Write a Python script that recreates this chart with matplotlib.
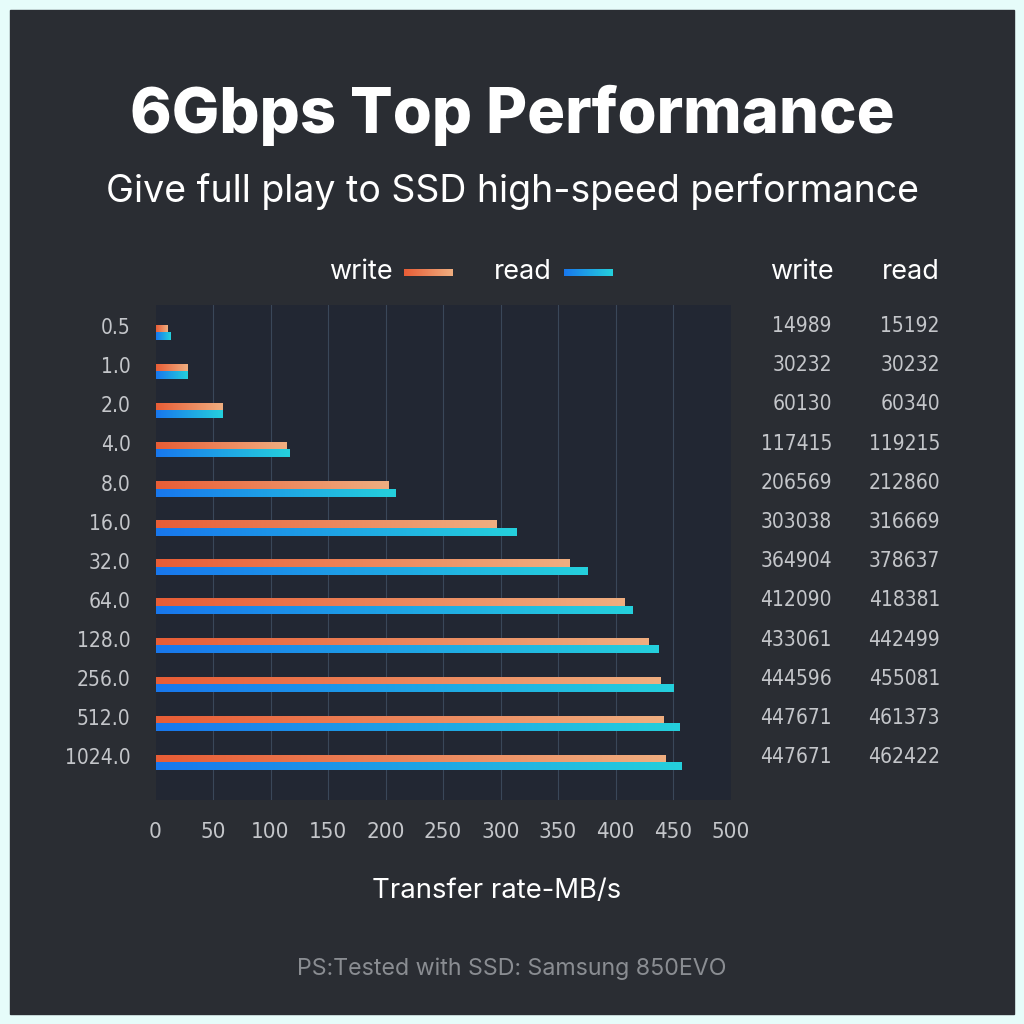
import numpy as np
import matplotlib
matplotlib.use('Agg')
import matplotlib.pyplot as plt
from matplotlib import font_manager
from matplotlib.colors import LinearSegmentedColormap

sizes = ['0.5', '1.0', '2.0', '4.0', '8.0', '16.0', '32.0', '64.0', '128.0', '256.0', '512.0', '1024.0']
write_mbs = [10.3, 27.4, 57.8, 113.5, 202, 296, 360, 407, 428.5, 438.5, 441.5, 443]
read_mbs = [12.9, 27.4, 57.8, 116, 208, 313.5, 375, 414, 437, 450, 455, 457]
write_kbs = ['14989', '30232', '60130', '117415', '206569', '303038', '364904', '412090',
             '433061', '444596', '447671', '447671']
read_kbs = ['15192', '30232', '60340', '119215', '212860', '316669', '378637', '418381',
            '442499', '455081', '461373', '462422']
x_ticks = [0, 50, 100, 150, 200, 250, 300, 350, 400, 450, 500]

fonts = font_manager.fontManager.ttflist
installed = {f.name for f in fonts}
narrow_props = None
for f in fonts:
    if 'Narrow' in f.name or 'Condensed' in f.name or f.stretch in ('condensed', 'semi-condensed'):
        if f.weight in (400, 'normal', 'regular') and f.style == 'normal':
            narrow_props = dict(fname=f.fname)
            break
if narrow_props is None:
    narrow_props = dict(family='Liberation Sans')
nice = 'Inter' if 'Inter' in installed else 'DejaVu Sans'

BG = '#2a2d33'
PLOT_BG = '#222733'
write_cmap = LinearSegmentedColormap.from_list('w', ['#e85d36', '#f0ae80'])
read_cmap = LinearSegmentedColormap.from_list('r', ['#1877ee', '#25d0dc'])
grad = np.linspace(0, 1, 256).reshape(1, -1)

fig = plt.figure(figsize=(10.24, 10.24), dpi=100)
fig.patch.set_facecolor('#e6fcfa')
fig.patches.append(plt.Rectangle((10 / 1024, 10 / 1024), 1004 / 1024, 1004 / 1024,
                                 transform=fig.transFigure, color=BG, zorder=-5))

num_font = font_manager.FontProperties(size=15, **narrow_props)
tick_font = font_manager.FontProperties(size=16, **narrow_props)

ax = fig.add_axes([155.5 / 1024, 1 - 800 / 1024, 575 / 1024, 495 / 1024], zorder=2)
ax.set_facecolor(PLOT_BG)

bh = 0.19
for i in range(len(sizes)):
    ax.imshow(grad, cmap=write_cmap, aspect='auto', extent=[0, write_mbs[i], i + 0.02, i - bh + 0.02], zorder=3)
    ax.imshow(grad, cmap=read_cmap, aspect='auto', extent=[0, read_mbs[i], i + bh + 0.02, i + 0.02], zorder=3)
ax.set_xlim(0, 500)
ax.set_ylim(11.97, -0.69)

for x in x_ticks[1:-1]:
    ax.axvline(x, color='#3a4759', lw=0.8, zorder=1)

for s in ax.spines.values():
    s.set_visible(False)
ax.set_xticks(x_ticks)
ax.set_xticklabels([str(t) for t in x_ticks], color='#c4c6ca', fontproperties=tick_font)
ax.set_yticks(np.arange(len(sizes)) - 0.15)
ax.set_yticklabels(sizes, color='#c4c6ca', fontproperties=num_font)
ax.tick_params(length=0)
ax.tick_params(axis='x', pad=16)
ax.tick_params(axis='y', pad=18)

# title and subtitle
fig.text(0.5, 1 - 115 / 1024, '6Gbps Top Performance', ha='center', va='center',
         fontsize=45.5, fontweight='heavy', color='white', family=nice)
fig.text(0.5, 1 - 192 / 1024, 'Give full play to SSD high-speed performance', ha='center',
         va='center', fontsize=27, color='white', family=nice)

# legend
fig.text(393 / 1024, 1 - 272 / 1024, 'write', ha='right', va='center', fontsize=19.5,
         color='white', family=nice)
fig.text(552 / 1024, 1 - 272 / 1024, 'read', ha='right', va='center', fontsize=19.5,
         color='white', family=nice)
for x0, cm in [(404, write_cmap), (564, read_cmap)]:
    lax = fig.add_axes([x0 / 1024, 1 - 276 / 1024, 49 / 1024, 7 / 1024], zorder=3)
    lax.imshow(grad, cmap=cm, aspect='auto')
    lax.axis('off')

# right-hand table
fig.text(802 / 1024, 1 - 272 / 1024, 'write', ha='center', va='center', fontsize=19.5,
         color='white', family=nice)
fig.text(911 / 1024, 1 - 272 / 1024, 'read', ha='center', va='center', fontsize=19.5,
         color='white', family=nice)
for i in range(len(sizes)):
    y = 1 - (326 + i * 39.2) / 1024
    fig.text(832 / 1024, y, write_kbs[i], ha='right', va='center',
             color='#c4c6ca', fontproperties=num_font)
    fig.text(940 / 1024, y, read_kbs[i], ha='right', va='center',
             color='#c4c6ca', fontproperties=num_font)

fig.text(497 / 1024, 1 - 891 / 1024, 'Transfer rate-MB/s', ha='center', va='center',
         fontsize=19.8, color='white', family=nice)
fig.text(0.5, 1 - 969 / 1024, 'PS:Tested with SSD: Samsung 850EVO', ha='center', va='center',
         fontsize=16.7, color='#8a8d92', family=nice)

fig.savefig('out.png', dpi=100, facecolor=fig.get_facecolor())
